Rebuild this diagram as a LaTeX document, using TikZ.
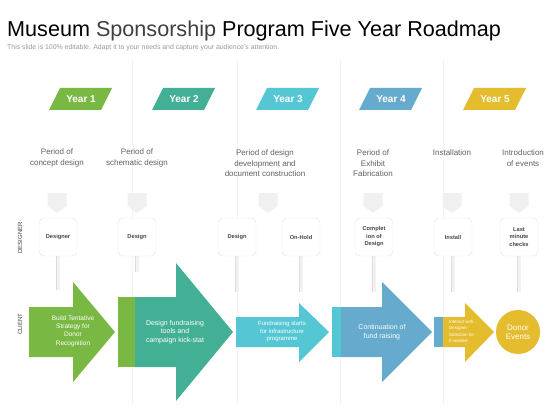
\documentclass[tikz,border=0pt]{standalone}
\usepackage{fontspec}
\setmainfont{Liberation Sans}
\usetikzlibrary{positioning,backgrounds}
\definecolor{yrgreen}{HTML}{7AB844}
\definecolor{yrteal}{HTML}{43B095}
\definecolor{yrcyan}{HTML}{55C7D4}
\definecolor{yrblue}{HTML}{66AACD}
\definecolor{yrgold}{HTML}{E4BC2E}
\tikzset{
  divline/.style={draw=black!5, line width=0.6pt},
  yearlbl/.style={text=white, font=\bfseries\fontsize{10}{12}\selectfont, inner sep=0pt},
  phase/.style={text=black!62, font=\fontsize{8}{10.5}\selectfont, align=center, inner sep=0pt},
  rolebox/.style={draw=black!11, fill=white, rounded corners=5pt, minimum width=38pt, minimum height=38pt, inner sep=1pt, align=center, text=black!72, font=\bfseries\fontsize{5.7}{7.5}\selectfont},
  stalk/.style={draw=black!14, double=black!5, double distance=3pt, line width=0.5pt},
  rolelbl/.style={rotate=90, text=black!75, font=\fontsize{6}{7}\selectfont, inner sep=0pt},
  steptxt/.style={text=white, align=center, inner sep=0pt},
}
\begin{document}
\begin{tikzpicture}[x=1pt,y=1pt,yscale=-1,xscale=1]
\useasboundingbox (0,0) rectangle (560,420);
\begin{scope}[on background layer]
\fill[white] (0,0) rectangle (560,420);
\end{scope}

% Title
\node[anchor=base west, inner sep=0pt, font=\fontsize{21.6}{26}\selectfont] (title) at (7,37) {Museum \textcolor{black!75}{Sponsorship} Program Five Year Roadmap};
\node[anchor=west, inner sep=0pt, text=black!40, font=\fontsize{6.9}{8}\selectfont] (subtitle) at (7,47.5) {This slide is 100\% editable. Adapt it to your needs and capture your audience's attention.};

% Dividers
\begin{scope}[on background layer]
\foreach \dx in {132,237,340,443}
  \draw[divline] (\dx,60) -- (\dx,404);
\end{scope}

% Year badges
\foreach \cx/\col/\n in {81/yrgreen/1,184/yrteal/2,288/yrcyan/3,391/yrblue/4,495/yrgold/5}{
  \fill[\col] (\cx-32,110) -- (\cx-21,88) -- (\cx+31,88) -- (\cx+20,110) -- cycle;
  \node[yearlbl] (yr\n) at (\cx,99) {Year \n};
}

% Phase texts
\node[phase] (ph1) at (57,158) {Period of\\concept design};
\node[phase] (ph2) at (137,158) {Period of\\schematic design};
\node[phase] (ph3) at (265,163.5) {Period of design\\development and\\document construction};
\node[phase] (ph4) at (373,163.5) {Period of\\Exhibit\\Fabrication};
\node[phase] (ph5) at (452,153) {Installation};
\node[phase] (ph6) at (523,158) {Introduction\\of events};

% Markers
\foreach \mx in {57,137,268,373,452,519}
  \fill[black!6] (\mx-9.5,193) -- (\mx+9.5,193) -- (\mx+9.5,206) -- (\mx,213) -- (\mx-9.5,206) -- cycle;

% Role labels
\node[rolelbl] (lbldesigner) at (20,238) {DESIGNER};
\node[rolelbl] (lblclient) at (20,324) {CLIENT};

% Designer boxes
\node[rolebox] (bx1) at (58,237) {Designer};
\node[rolebox] (bx2) at (137,237) {Design};
\node[rolebox] (bx3) at (237,237) {Design};
\node[rolebox] (bx4) at (301,237) {On-Hold};
\node[rolebox] (bx5) at (374,237) {Complet\\ion of\\Design};
\node[rolebox] (bx6) at (453,237) {Install};
\node[rolebox] (bx7) at (519,237) {Last\\minute\\checks};

\begin{scope}[on background layer]
\foreach \b/\e in {bx1/290,bx2/272,bx3/292,bx4/292,bx5/292,bx6/292,bx7/292}
  \draw[stalk] ([yshift=4pt]\b.north) -- (\b.south |- 0,\e);
\end{scope}

% Client arrows
\fill[yrgreen] (29,307) -- (73,307) -- (73,282) -- (115,332) -- (73,382) -- (73,357) -- (29,357) -- cycle;
\fill[yrgreen] (118,297) rectangle (135,367);
\fill[yrteal] (135,297) -- (176,297) -- (176,263) -- (233,332) -- (176,401) -- (176,367) -- (135,367) -- cycle;
\fill[yrcyan] (236,317) -- (299,317) -- (299,303) -- (329,332) -- (299,362) -- (299,347) -- (236,347) -- cycle;
\fill[yrcyan] (332,307) rectangle (341,357);
\fill[yrblue] (341,307) -- (382,307) -- (382,282) -- (432,332) -- (382,382) -- (382,357) -- (341,357) -- cycle;
\fill[yrblue] (434,317) rectangle (443,347);
\fill[yrgold] (443,317) -- (465,317) -- (465,303) -- (494,332) -- (465,362) -- (465,347) -- (443,347) -- cycle;

% Arrow texts
\node[steptxt, font=\fontsize{6.5}{8.3}\selectfont] (st1) at (73,331) {Build Tentative\\Strategy for\\Donor\\Recognition};
\node[steptxt, font=\fontsize{7}{8.2}\selectfont] (st2) at (175,332) {Design fundraising\\tools and\\campaign kick-stat};
\node[steptxt, font=\fontsize{6}{7.5}\selectfont] (st3) at (282,331.5) {Fundraising starts\\for infrastructure\\programme};
\node[steptxt, font=\fontsize{7}{9}\selectfont] (st4) at (382,332.5) {Continuation of\\fund raising};
\node[steptxt, align=left, anchor=west, font=\fontsize{4.5}{6.3}\selectfont] (st5) at (449,331.5) {Interact with\\Designer\\Selection for\\if needed};
\node[circle, fill=yrgold, minimum size=44pt, inner sep=0pt, align=center, text=white, font=\fontsize{8}{9}\selectfont] (donor) at (518,332) {Donor\\Events};

\end{tikzpicture}
\end{document}
